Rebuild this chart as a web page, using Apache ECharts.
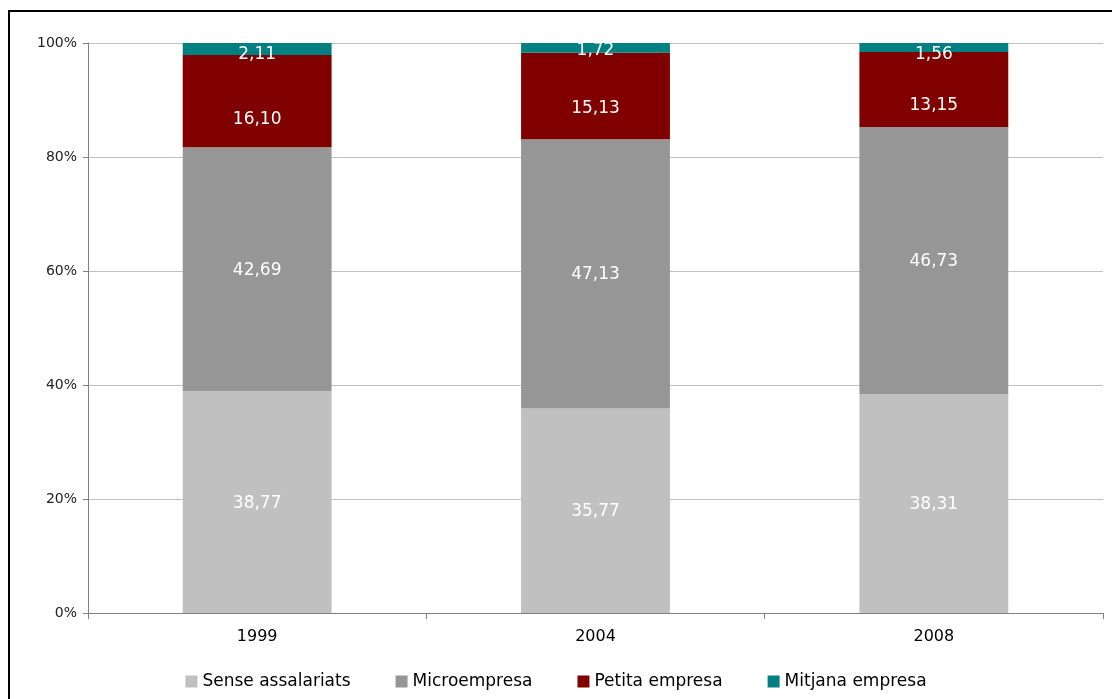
<!DOCTYPE html>
<html><head><meta charset="utf-8">
<script src="https://cdn.jsdelivr.net/npm/echarts@6/dist/echarts.min.js"></script>
<style>
html,body{margin:0;padding:0;background:#fff;overflow:hidden}
#frame{position:absolute;left:8px;top:10px;width:1200px;height:800px;border:2px solid #000;box-sizing:border-box}
#chart{position:absolute;left:0;top:0;width:1112px;height:699px}
</style></head>
<body>
<div id="frame"></div>
<div id="chart"></div>
<script>
const categories = ['1999', '2004', '2008'];
const senseAssalariats = [38.77, 35.77, 38.31];
const microempresa = [42.69, 47.13, 46.73];
const petitaEmpresa = [16.10, 15.13, 13.15];
const mitjanaEmpresa = [2.11, 1.72, 1.56];
const yTickLabels = ['0%', '20%', '40%', '60%', '80%', '100%'];

const raw = [senseAssalariats, microempresa, petitaEmpresa, mitjanaEmpresa];
const totals = categories.map((c, i) => raw.reduce((s, arr) => s + arr[i], 0));
const fmt = v => v.toFixed(2).replace('.', ',');

const names = ['Sense assalariats', 'Microempresa', 'Petita empresa', 'Mitjana empresa'];
const colors = ['#C0C0C0', '#969696', '#800000', '#008080'];
// label vertical nudges (style only), per series per category
const labelNudge = [[1, 1, 1], [1, 1, 1], [18, 13, 16], [6, 3, 7]];

const chart = echarts.init(document.getElementById('chart'));
chart.setOption({
  animation: false,
  color: colors,
  grid: { left: 88, right: 9, top: 43, bottom: 86, containLabel: false },
  legend: {
    bottom: 4, left: 'center', itemWidth: 12, itemHeight: 12, itemGap: 45,
    icon: 'rect',
    textStyle: { fontFamily: 'DejaVu Sans', fontSize: 17, color: '#000', padding: [0, 0, 0, 0] },
    data: names
  },
  xAxis: {
    type: 'category', data: categories,
    axisLine: { lineStyle: { color: '#808080', width: 1 } },
    axisTick: { show: true, length: 6, alignWithLabel: false, lineStyle: { color: '#808080' } },
    axisLabel: { fontFamily: 'DejaVu Sans', fontSize: 16, color: '#000', margin: 16 }
  },
  yAxis: {
    type: 'value', min: 0, max: 100, interval: 20,
    axisLine: { show: true, lineStyle: { color: '#808080' } },
    axisTick: { show: true, length: 5, inside: false, lineStyle: { color: '#808080' } },
    splitLine: { lineStyle: { color: '#C0C0C0', width: 1 } },
    axisLabel: {
      fontFamily: 'DejaVu Sans', fontSize: 14, color: '#222', margin: 11,
      formatter: v => yTickLabels[Math.round(v / 20)]
    }
  },
  series: raw.map((arr, k) => ({
    name: names[k], type: 'bar', stack: 'total', barWidth: '44%',
    data: arr.map((v, i) => ({
      value: v / totals[i] * 100, raw: v,
      label: { offset: [0, labelNudge[k][i]] }
    })),
    itemStyle: { color: colors[k] },
    label: {
      show: true, position: 'inside',
      fontFamily: 'DejaVu Sans', fontSize: 17, color: '#fff',
      formatter: p => fmt(p.data.raw)
    }
  }))
});
</script>
</body></html>
